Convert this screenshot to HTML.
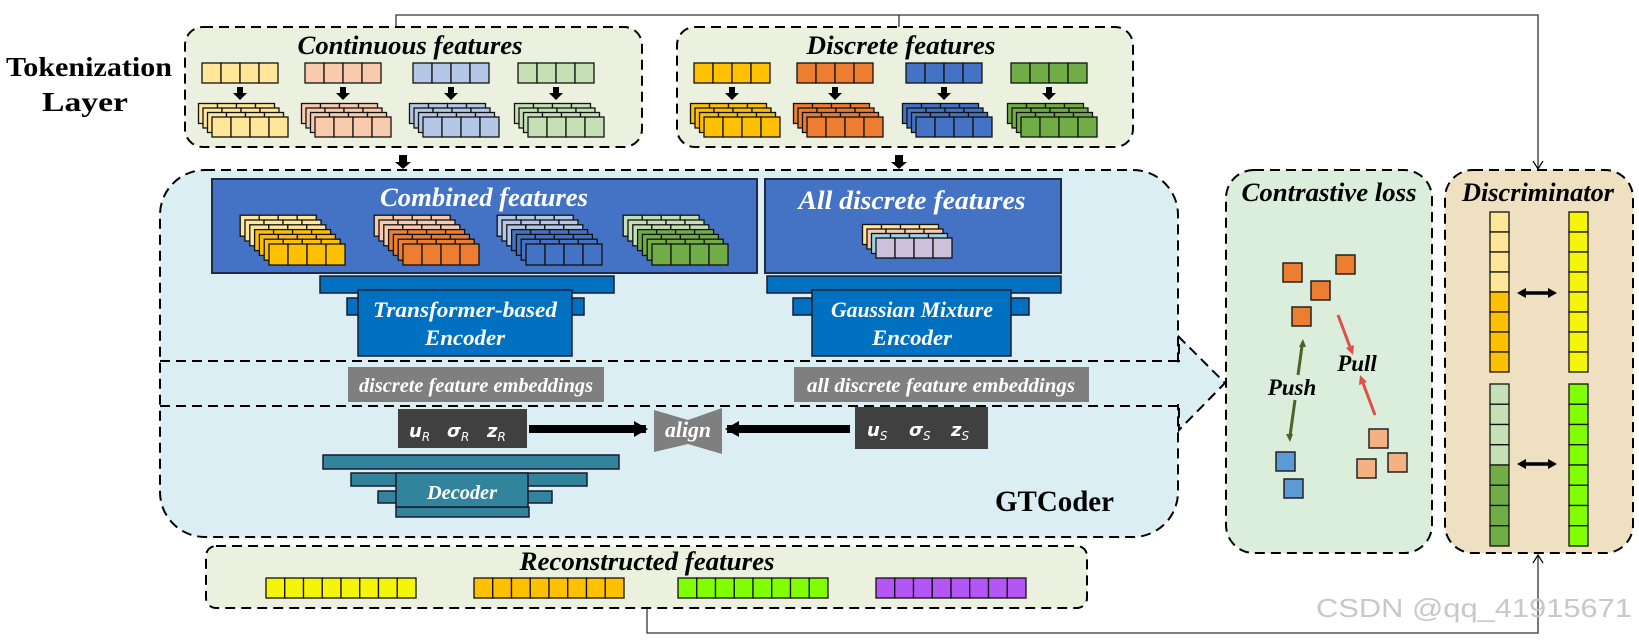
<!DOCTYPE html>
<html><head><meta charset="utf-8"><style>
html,body{margin:0;padding:0;background:#fff;}
svg{display:block;}
.t{font-family:"Liberation Serif",serif;font-weight:bold;font-style:italic;}
.w{fill:#fff;}
</style></head><body>
<svg id="s" width="1639" height="641" viewBox="0 0 1639 641" xmlns="http://www.w3.org/2000/svg">
<defs>
<marker id="ah" markerWidth="16" markerHeight="16" refX="12" refY="8" orient="auto" markerUnits="userSpaceOnUse"><path d="M0,0 L14,8 L0,16 z" fill="#000"/></marker>
<marker id="open" markerWidth="12" markerHeight="12" refX="10" refY="6" orient="auto" markerUnits="userSpaceOnUse"><path d="M2,1 L10,6 L2,11" fill="none" stroke="#000" stroke-width="1.2"/></marker>
</defs>
<polyline points="396,27 396,15 1538,15 1538,169" fill="none" stroke="#333" stroke-width="1.3" marker-end="url(#open)"/>
<line x1="899" y1="15" x2="899" y2="27" stroke="#333" stroke-width="1.3"/>
<polyline points="647,608 647,633 1538,633 1538,555" fill="none" stroke="#333" stroke-width="1.3" marker-end="url(#open)"/>

<rect x="185" y="27" width="457" height="120" rx="18" fill="#ebf1de" stroke="#000" stroke-width="2" stroke-dasharray="10,6"/>
<rect x="677" y="27" width="456" height="120" rx="18" fill="#ebf1de" stroke="#000" stroke-width="2" stroke-dasharray="10,6"/>
<path d="M1170,361 L1179,361 L1179,337 L1225,383 L1179,430 L1179,406 L1170,406 Z" fill="#dbeef3" stroke="#000" stroke-width="2" stroke-dasharray="10,6"/>
<rect x="160" y="170" width="1018" height="367" rx="45" fill="#dbeef3" stroke="#000" stroke-width="2" stroke-dasharray="10,6"/>
<rect x="1168" y="363" width="14" height="41" fill="#dbeef3"/>
<line x1="160" y1="361" x2="1179" y2="361" stroke="#000" stroke-width="2" stroke-dasharray="10,6"/>
<line x1="160" y1="406" x2="1179" y2="406" stroke="#000" stroke-width="2" stroke-dasharray="10,6"/>
<rect x="206" y="546" width="881" height="62" rx="10" fill="#ebf1de" stroke="#000" stroke-width="2" stroke-dasharray="10,6"/>
<rect x="1226" y="170" width="206" height="383" rx="28" fill="#dbeedb" stroke="#000" stroke-width="2" stroke-dasharray="10,6"/>
<rect x="1445" y="170" width="188" height="383" rx="28" fill="#eee0c0" stroke="#000" stroke-width="2" stroke-dasharray="10,6"/>

<g fill="#000">
<path d="M399,155 h8 v7 h4 l-8,7 l-8,-7 h4 z"/>
<path d="M895,155 h8 v7 h4 l-8,7 l-8,-7 h4 z"/>
</g>

<rect x="212" y="179" width="545" height="94" fill="#4472c4" stroke="#1f2a44" stroke-width="2"/>
<rect x="765" y="179" width="296" height="94" fill="#4472c4" stroke="#1f2a44" stroke-width="2"/>

<g fill="#0070c0" stroke="#1a1a2e" stroke-width="1.5">
<rect x="320" y="276" width="294" height="17"/>
<rect x="347" y="298" width="237" height="17"/>
<rect x="358" y="290" width="214" height="66"/>
<rect x="767" y="276" width="294" height="17"/>
<rect x="793" y="298" width="236" height="17"/>
<rect x="812" y="290" width="199" height="66"/>
</g>
<rect x="348" y="367" width="256" height="35" fill="#7f7f7f"/>
<rect x="794" y="367" width="295" height="35" fill="#7f7f7f"/>
<rect x="398" y="409" width="129" height="39" fill="#404040"/>
<rect x="855" y="407" width="133" height="42" fill="#404040"/>
<line x1="529" y1="429" x2="646" y2="429" stroke="#000" stroke-width="8" marker-end="url(#ah)"/>
<line x1="850" y1="429" x2="727" y2="429" stroke="#000" stroke-width="8" marker-end="url(#ah)"/>
<path d="M654,410 L688,420 L722,408 L722,454 L688,444 L654,452 Z" fill="#7f7f7f"/>
<g fill="#31849b" stroke="#1a1a2e" stroke-width="1.5">
<rect x="323" y="455" width="296" height="14"/>
<rect x="351" y="473" width="236" height="13"/>
<rect x="378" y="491" width="174" height="12"/>
<rect x="396" y="507" width="133" height="10"/>
<rect x="396" y="473" width="132" height="34"/>
</g>

<g stroke="#222" stroke-width="1.5">
<rect x="1283" y="263" width="19" height="19" fill="#ed7d31"/>
<rect x="1336" y="255" width="19" height="19" fill="#ed7d31"/>
<rect x="1311" y="281" width="19" height="19" fill="#ed7d31"/>
<rect x="1292" y="307" width="19" height="19" fill="#ed7d31"/>
<rect x="1369" y="429" width="19" height="19" fill="#f4b183"/>
<rect x="1388" y="453" width="19" height="19" fill="#f4b183"/>
<rect x="1357" y="459" width="19" height="19" fill="#f4b183"/>
<rect x="1276" y="452" width="19" height="19" fill="#5b9bd5"/>
<rect x="1284" y="479" width="19" height="19" fill="#5b9bd5"/>
</g>
<g stroke="#4f6228" stroke-width="3" fill="#4f6228">
<line x1="1302" y1="346" x2="1298" y2="375"/>
<line x1="1295" y1="400" x2="1290" y2="436"/>
<path d="M1303,339 l-4,8 l7,0 z" stroke="none"/>
<path d="M1290,442 l-4,-8 l7,0 z" stroke="none"/>
</g>
<g stroke="#e0504a" stroke-width="3" fill="#e0504a">
<line x1="1338" y1="315" x2="1350" y2="347"/>
<line x1="1375" y1="415" x2="1363" y2="383"/>
<path d="M1353,355 l-7,-7 l8,-3 z" stroke="none"/>
<path d="M1360,375 l7,7 l-8,3 z" stroke="none"/>
</g>
<g stroke="#000" stroke-width="3.5"><line x1="1524" y1="293" x2="1550" y2="293"/><line x1="1524" y1="464" x2="1550" y2="464"/></g>
<g fill="#000"><path d="M1517,293 l9,-5 v10 z M1557,293 l-9,-5 v10 z M1517,464 l9,-5 v10 z M1557,464 l-9,-5 v10 z"/></g>

<g id="gen"></g>

<g font-family="Liberation Serif, serif" font-weight="bold" font-size="27" fill="#000">
<text x="6" y="76" textLength="166" lengthAdjust="spacingAndGlyphs">Tokenization</text>
<text x="42" y="111" textLength="86" lengthAdjust="spacingAndGlyphs">Layer</text>
<text x="995" y="511" font-size="30" textLength="119" lengthAdjust="spacingAndGlyphs">GTCoder</text>
</g>
<g class="t" font-size="26">
<text x="410" y="54" text-anchor="middle" textLength="225" lengthAdjust="spacingAndGlyphs">Continuous  features</text>
<text x="901" y="54" text-anchor="middle" textLength="189" lengthAdjust="spacingAndGlyphs">Discrete  features</text>
<text x="484" y="206" text-anchor="middle" class="w" textLength="208" lengthAdjust="spacingAndGlyphs">Combined  features</text>
<text x="912" y="209" text-anchor="middle" class="w" textLength="227" lengthAdjust="spacingAndGlyphs">All  discrete  features</text>
<text x="647" y="570" text-anchor="middle" textLength="255" lengthAdjust="spacingAndGlyphs">Reconstructed  features</text>
<text x="1329" y="201" text-anchor="middle" textLength="175" lengthAdjust="spacingAndGlyphs">Contrastive  loss</text>
<text x="1538" y="201" text-anchor="middle" textLength="152" lengthAdjust="spacingAndGlyphs">Discriminator</text>
</g>
<g class="t" font-size="22">
<text x="465" y="317" text-anchor="middle" class="w" textLength="184" lengthAdjust="spacingAndGlyphs">Transformer-based</text>
<text x="465" y="345" text-anchor="middle" class="w" textLength="80" lengthAdjust="spacingAndGlyphs">Encoder</text>
<text x="912" y="317" text-anchor="middle" class="w" textLength="162" lengthAdjust="spacingAndGlyphs">Gaussian Mixture</text>
<text x="912" y="345" text-anchor="middle" class="w" textLength="80" lengthAdjust="spacingAndGlyphs">Encoder</text>
<text x="476" y="392" text-anchor="middle" class="w" font-size="20" textLength="234" lengthAdjust="spacingAndGlyphs">discrete feature embeddings</text>
<text x="941" y="392" text-anchor="middle" class="w" font-size="20" textLength="268" lengthAdjust="spacingAndGlyphs">all discrete feature embeddings</text>
<text x="688" y="437" text-anchor="middle" class="w" font-size="22" textLength="46" lengthAdjust="spacingAndGlyphs">align</text>
<text x="462" y="499" text-anchor="middle" class="w" font-size="20" textLength="70" lengthAdjust="spacingAndGlyphs">Decoder</text>
<text x="1292" y="395" text-anchor="middle" font-size="23">Push</text>
<text x="1357" y="371" text-anchor="middle" font-size="23">Pull</text>
</g>
<g font-family="DejaVu Sans, sans-serif" font-weight="bold" font-style="italic" fill="#fff" font-size="18">
<text x="409" y="437">u<tspan font-size="12" dy="4" font-weight="normal">R</tspan></text>
<text x="447" y="437">σ<tspan font-size="12" dy="4" font-weight="normal">R</tspan></text>
<text x="487" y="437">z<tspan font-size="12" dy="4" font-weight="normal">R</tspan></text>
<text x="867" y="436">u<tspan font-size="12" dy="4" font-weight="normal">S</tspan></text>
<text x="909" y="436">σ<tspan font-size="12" dy="4" font-weight="normal">S</tspan></text>
<text x="951" y="436">z<tspan font-size="12" dy="4" font-weight="normal">S</tspan></text>
</g>
<text x="1316" y="617" font-family="Liberation Sans, sans-serif" font-size="26" fill="#c8c8c8" textLength="316" lengthAdjust="spacingAndGlyphs">CSDN @qq_41915671</text>
</svg>
<script>
var g=document.getElementById('gen'),NS='http://www.w3.org/2000/svg';
function r(x,y,w,h,f){var e=document.createElementNS(NS,'rect');e.setAttribute('x',x);e.setAttribute('y',y);e.setAttribute('width',w);e.setAttribute('height',h);e.setAttribute('fill',f);e.setAttribute('stroke','#111');e.setAttribute('stroke-width','1.3');g.appendChild(e);}
function bar(x,y,n,cw,h,f){for(var i=0;i<n;i++)r(x+i*cw,y,cw,h,f);}
function stack(fx,fy,cols,d,cw,h){var L=cols.length;for(var i=L-1;i>=0;i--)bar(fx-i*d,fy-i*d,4,cw,h,cols[L-1-i]);}
var light=['#ffe699','#f8cbad','#b4c7e7','#c5e0b4'],dark=['#ffc000','#ed7d31','#4472c4','#70ad47'];
var cx=[202,305,413,518],dx=[694,797,906,1011];
for(var k=0;k<4;k++){
 bar(cx[k],63,4,19,20,light[k]);
 stack(cx[k]+10,117,[light[k],light[k],light[k],light[k]],4.5,19,20);
 bar(dx[k],63,4,19,20,dark[k]);
 stack(dx[k]+10,117,[dark[k],dark[k],dark[k],dark[k]],4.5,19,20);
 [cx[k],dx[k]].forEach(function(x){var p=document.createElementNS(NS,'path');var c=x+38;p.setAttribute('d','M'+(c-3)+',87 h6 v6 h4 l-7,7 l-7,-7 h4 z');g.appendChild(p);});
}
var fxs=[269,403,526,652];
for(var k=0;k<4;k++){var c=[light[k],light[k],light[k],dark[k],dark[k],dark[k],dark[k]];stack(fxs[k],244,c,4.8,19,21);}
stack(876,238,['#ffe699','#f8cbad','#9dd3e6','#ccc0da'],4.5,19,20);
var rc=['#f5f50a','#ffc000','#80ff00','#b455f5'],rx=[266,474,678,876];
for(var k=0;k<4;k++)bar(rx[k],578,8,18.75,20,rc[k]);
for(var i=0;i<8;i++){r(1490,212+i*20,19,20,i<4?'#ffe699':'#ffc000');r(1569,212+i*20,19,20,'#f5f50a');
 r(1490,384+i*20.25,19,20.25,i<4?'#c5e0b4':'#70ad47');r(1569,384+i*20.25,19,20.25,'#80ff00');}
</script>
</body></html>
